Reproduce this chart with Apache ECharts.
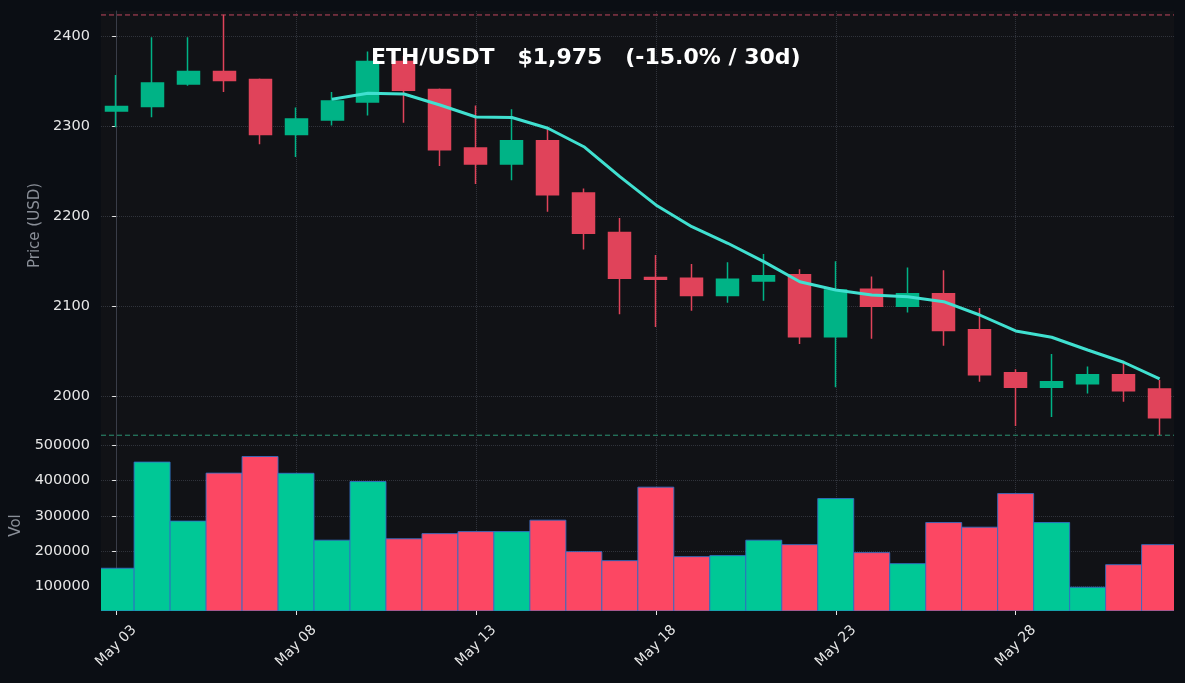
<!DOCTYPE html>
<html>
<head>
<meta charset="utf-8">
<script src="https://cdn.jsdelivr.net/npm/echarts@6/dist/echarts.min.js"></script>
<style>
html,body{margin:0;padding:0;background:#0b0e14;}
#c{width:1185px;height:683px;}
</style>
</head>
<body>
<div id="c"></div>
<script>
// ---- data ----
const dates = ['May 03','May 04','May 05','May 06','May 07','May 08','May 09','May 10','May 11','May 12',
  'May 13','May 14','May 15','May 16','May 17','May 18','May 19','May 20','May 21','May 22',
  'May 23','May 24','May 25','May 26','May 27','May 28','May 29','May 30','May 31','Jun 01'];
const opens  = [2317,2322,2347,2361,2352,2291,2307,2327,2372,2341,2276,2258,2284,2226,2182,2132,2131,2112,2128,2135,2066,2119,2100,2114,2074,2026,2010,2014,2024,2008];
const closes = [2322,2348,2361,2351,2291,2308,2328,2372,2340,2274,2258,2284,2224,2181,2131,2130,2112,2130,2134,2066,2118,2100,2114,2073,2024,2010,2016,2024,2006,1976];
const lows   = [2299,2310,2345,2338,2280,2266,2301,2312,2304,2256,2236,2240,2205,2163,2091,2077,2095,2104,2106,2058,2010,2064,2093,2056,2016,1967,1977,2003,1994,1957];
const highs  = [2357,2399,2399,2424,2353,2321,2338,2383,2378,2342,2323,2319,2298,2231,2198,2157,2147,2149,2158,2141,2150,2133,2143,2140,2098,2030,2047,2033,2037,2018];
const volumes = [151200,452800,285100,421500,468700,421000,230900,397600,235000,249600,255300,255300,287800,198400,172800,381600,184200,187100,230900,218300,349200,195600,164300,281000,267900,363400,281000,97200,161400,218300];
const maStart = 6;
const maValues = [2330,2336.7,2335.9,2323.7,2310.3,2309.7,2297.8,2277.3,2244,2212.6,2188.4,2170,2149.6,2127.3,2118.1,2112.6,2110.7,2105.1,2090.3,2072.6,2065.6,2051.4,2037.8,2019.2];
const refHigh = 2423.7, refLow = 1956.7;
const priceTicks = [2000,2100,2200,2300,2400];
const volTicks = [100000,200000,300000,400000,500000];
const xTicks = [0,5,10,15,20,25];
const titleText = 'ETH/USDT   $1,975   (-15.0% / 30d)';

// ---- build ----
const UP = '#00b386', DOWN = '#e0435a', VUP = '#00c896', VDOWN = '#fc4763';
const candleData = dates.map((d,i)=>[i, opens[i], closes[i], lows[i], highs[i]]);
const volData = volumes.map((v,i)=>[i, v, closes[i]>=opens[i]?1:0]);
const maData = maValues.map((v,k)=>[maStart+k, v]);

const FONT = 'DejaVu Sans';
const gridLine = {show:true, lineStyle:{color:'#30333b', type:'dotted', width:1}};
const xMin = -0.42, xMax = 29.4;
const volMin = 29730, volMax = 515570;

const chart = echarts.init(document.getElementById('c'), null, {renderer:'canvas'});
chart.setOption({
  backgroundColor:'#0b0e14',
  animation:false,
  title:{text:titleText, left:366, top:42, textStyle:{color:'#ffffff', fontFamily:FONT, fontWeight:'bold', fontSize:22}},
  grid:[
    {left:101, top:11, width:1073, height:429, show:true, backgroundColor:'#111216', borderWidth:0, containLabel:false, outerBoundsMode:'none'},
    {left:101, top:440, width:1073, height:171, show:true, backgroundColor:'#111216', borderWidth:0, containLabel:false, outerBoundsMode:'none'}
  ],
  xAxis:[
    {type:'value', gridIndex:0, min:xMin, max:xMax,
     axisLine:{show:false}, axisTick:{show:false, customValues:xTicks}, axisLabel:{show:false, customValues:xTicks},
     splitLine:gridLine},
    {type:'value', gridIndex:1, min:xMin, max:xMax,
     axisLine:{show:false},
     axisTick:{show:true, customValues:xTicks, length:4, lineStyle:{color:'#e6e6e6'}},
     axisLabel:{customValues:xTicks, rotate:45, align:'center', verticalAlign:'middle', color:'#e6e6e6', fontFamily:FONT, fontSize:14, margin:35,
       formatter:v=>dates[Math.round(v)]},
     splitLine:gridLine}
  ],
  yAxis:[
    {type:'value', gridIndex:0, min:1951.4, max:2428.1, name:'Price (USD)', nameLocation:'middle', nameGap:52,
     nameTextStyle:{color:'#8a8f98', fontFamily:FONT, fontSize:15},
     axisLine:{show:true, lineStyle:{color:'#3a3d48'}},
     axisTick:{show:true, customValues:priceTicks, length:4, lineStyle:{color:'#e6e6e6'}},
     axisLabel:{customValues:priceTicks, color:'#e6e6e6', fontFamily:FONT, fontSize:14.5, margin:11, formatter:v=>String(v)},
     splitLine:gridLine},
    {type:'value', gridIndex:1, min:volMin, max:volMax, name:'Vol', nameLocation:'middle', nameGap:70,
     nameTextStyle:{color:'#8a8f98', fontFamily:FONT, fontSize:15},
     axisLine:{show:true, lineStyle:{color:'#3a3d48'}},
     axisTick:{show:true, customValues:volTicks, length:4, lineStyle:{color:'#e6e6e6'}},
     axisLabel:{customValues:volTicks, color:'#e6e6e6', fontFamily:FONT, fontSize:14.5, margin:11, formatter:v=>String(v)},
     splitLine:gridLine}
  ],
  series:[
    {type:'line', xAxisIndex:0, yAxisIndex:0, data:[[xMin, refHigh],[xMax, refHigh]], showSymbol:false, symbol:'none',
     lineStyle:{color:'#c0475e', type:[5,3], width:1}, z:1, silent:true},
    {type:'line', xAxisIndex:0, yAxisIndex:0, data:[[xMin, refLow],[xMax, refLow]], showSymbol:false, symbol:'none',
     lineStyle:{color:'#2c9474', type:[5,3], width:1}, z:1, silent:true},
    {type:'candlestick', xAxisIndex:0, yAxisIndex:0, data:candleData, encode:{x:0, y:[1,2,3,4]},
     barWidth:22.5, z:3,
     itemStyle:{color:UP, color0:DOWN, borderColor:UP, borderColor0:DOWN, borderWidth:1.5}
    },
    {type:'line', xAxisIndex:0, yAxisIndex:0, data:maData, showSymbol:false, symbol:'none',
     lineStyle:{color:'#40e0d0', width:3}, z:5},
    {type:'custom', xAxisIndex:1, yAxisIndex:1, data:volData, clip:true, encode:{x:0, y:1},
     renderItem:function(params, api){
       const x = api.value(0), v = api.value(1), up = api.value(2);
       const p0 = api.coord([x - 0.5, v]);
       const p1 = api.coord([x + 0.5, volMin]);
       return {type:'rect', shape:{x:p0[0], y:p0[1], width:p1[0]-p0[0], height:p1[1]-p0[1]},
         style:{fill: up ? VUP : VDOWN, stroke:'rgba(50,110,200,0.85)', lineWidth:1}};
     }
    }
  ]
});
</script>
</body>
</html>
